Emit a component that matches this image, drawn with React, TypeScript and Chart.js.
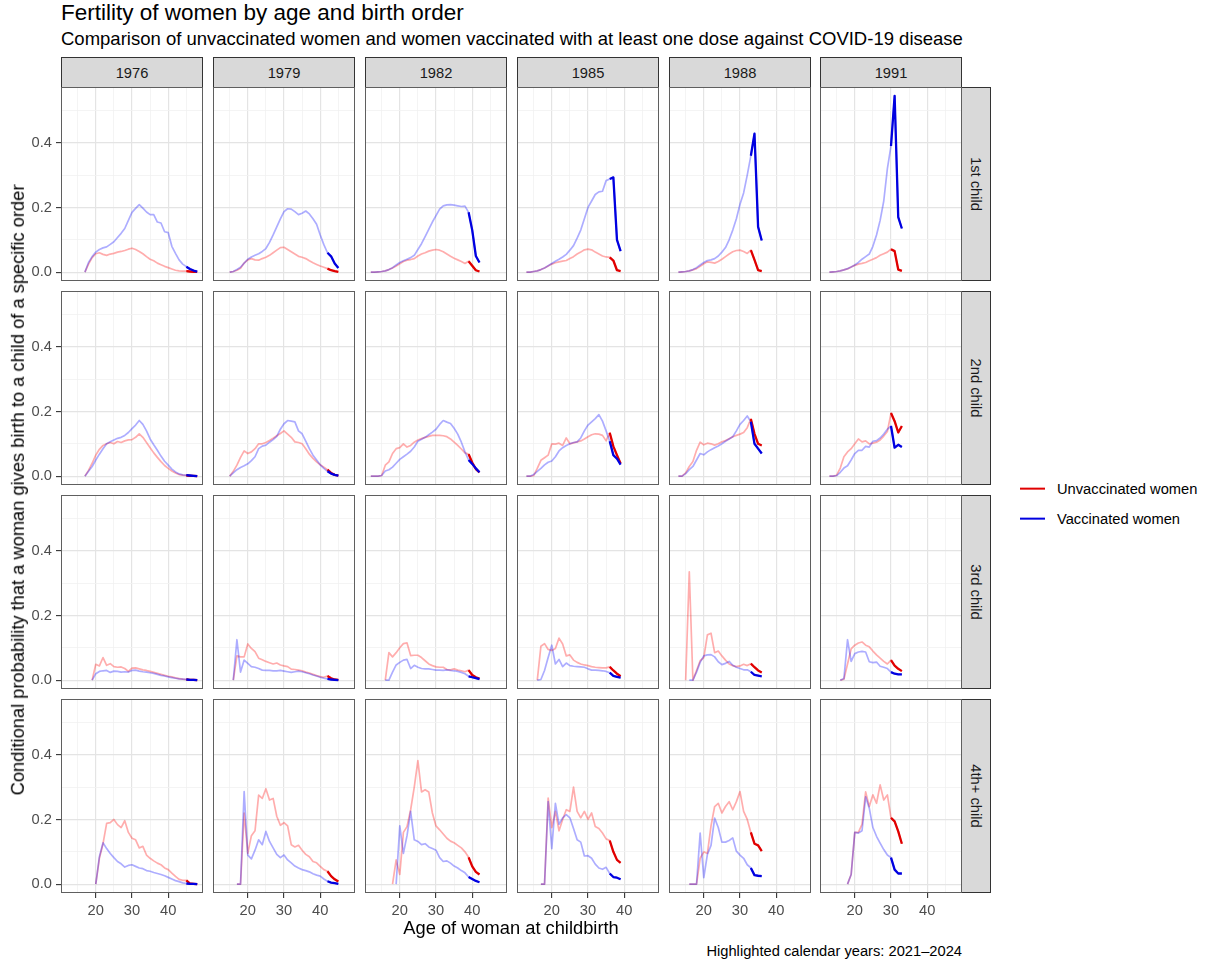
import React, { useEffect, useRef } from "react";
import { Chart, registerables } from "chart.js";

Chart.register(...registerables);

const FONT = '"Liberation Sans", Arial, Helvetica, sans-serif';

// ---------------- data ----------------
const COHORTS = [1976, 1979, 1982, 1985, 1988, 1991];
const BIRTH_ORDERS = ["1st child", "2nd child", "3rd child", "4th+ child"];
const SERIES_NAMES = ["Unvaccinated women", "Vaccinated women"];
const HIGHLIGHT_FIRST_YEAR = 2021;
const HIGHLIGHT_LAST_YEAR = 2024;
const X_TICKS = [15, 20, 25, 30, 35, 40, 45];
const X_TICK_LABELS = [20, 30, 40];
const Y_TICKS = [0, 0.1, 0.2, 0.3, 0.4, 0.5];
const Y_TICK_LABELS = [0, 0.2, 0.4];

// each series runs by single year of age and ends at the age reached in 2024
// 1st child
const unvac1976_1st = [0, 0.025, 0.045, 0.057, 0.06, 0.055, 0.052, 0.056, 0.058, 0.062, 0.064, 0.067, 0.071, 0.074, 0.07, 0.064, 0.057, 0.048, 0.04, 0.035, 0.028, 0.023, 0.018, 0.014, 0.01, 0.006, 0.004, 0.003, 0.003, 0.002, 0.001, 0.001];
const vac1976_1st = [0, 0.03, 0.048, 0.062, 0.07, 0.075, 0.078, 0.086, 0.094, 0.107, 0.12, 0.135, 0.16, 0.185, 0.197, 0.209, 0.198, 0.186, 0.178, 0.178, 0.155, 0.152, 0.125, 0.122, 0.08, 0.058, 0.038, 0.025, 0.017, 0.01, 0.005, 0.002];
const unvac1979_1st = [0, 0.002, 0.006, 0.012, 0.028, 0.038, 0.042, 0.038, 0.037, 0.042, 0.046, 0.052, 0.06, 0.068, 0.076, 0.077, 0.07, 0.063, 0.056, 0.049, 0.046, 0.042, 0.035, 0.029, 0.024, 0.019, 0.015, 0.011, 0.006, 0.003, 0.001];
const vac1979_1st = [0, 0.002, 0.008, 0.015, 0.028, 0.04, 0.047, 0.052, 0.057, 0.064, 0.073, 0.092, 0.115, 0.14, 0.165, 0.187, 0.196, 0.195, 0.187, 0.178, 0.182, 0.189, 0.18, 0.165, 0.148, 0.115, 0.085, 0.06, 0.049, 0.027, 0.013];
const unvac1982_1st = [0, 0, 0.001, 0.002, 0.004, 0.008, 0.013, 0.019, 0.026, 0.033, 0.037, 0.039, 0.042, 0.05, 0.056, 0.06, 0.065, 0.068, 0.07, 0.068, 0.063, 0.056, 0.049, 0.043, 0.038, 0.033, 0.027, 0.034, 0.02, 0.006, 0.002];
const vac1982_1st = [0, 0, 0.001, 0.002, 0.004, 0.008, 0.014, 0.022, 0.03, 0.035, 0.04, 0.045, 0.052, 0.07, 0.088, 0.11, 0.132, 0.155, 0.175, 0.195, 0.205, 0.208, 0.209, 0.207, 0.205, 0.203, 0.204, 0.185, 0.13, 0.05, 0.03];
const unvac1985_1st = [0, 0, 0.002, 0.004, 0.008, 0.013, 0.019, 0.025, 0.029, 0.032, 0.034, 0.036, 0.042, 0.048, 0.056, 0.062, 0.069, 0.071, 0.069, 0.062, 0.056, 0.05, 0.047, 0.046, 0.036, 0.006, 0.003];
const vac1985_1st = [0, 0, 0.002, 0.004, 0.008, 0.013, 0.02, 0.027, 0.034, 0.04, 0.047, 0.055, 0.068, 0.082, 0.105, 0.13, 0.165, 0.2, 0.22, 0.24, 0.248, 0.25, 0.283, 0.288, 0.293, 0.1, 0.065];
const unvac1988_1st = [0, 0.001, 0.002, 0.004, 0.007, 0.011, 0.018, 0.026, 0.032, 0.03, 0.028, 0.033, 0.04, 0.048, 0.056, 0.063, 0.067, 0.068, 0.064, 0.058, 0.068, 0.038, 0.006, 0.003];
const vac1988_1st = [0, 0.001, 0.002, 0.004, 0.008, 0.014, 0.022, 0.03, 0.036, 0.038, 0.042, 0.05, 0.062, 0.076, 0.1, 0.13, 0.165, 0.21, 0.245, 0.3, 0.36, 0.428, 0.14, 0.098];
const unvac1991_1st = [0, 0.001, 0.002, 0.004, 0.007, 0.01, 0.016, 0.021, 0.025, 0.027, 0.03, 0.035, 0.04, 0.045, 0.052, 0.057, 0.062, 0.071, 0.065, 0.008, 0.004];
const vac1991_1st = [0, 0.001, 0.002, 0.004, 0.007, 0.011, 0.016, 0.022, 0.03, 0.04, 0.048, 0.056, 0.08, 0.115, 0.16, 0.22, 0.32, 0.39, 0.545, 0.17, 0.135];

// 2nd child
const unvac1976_2nd = [0, 0.018, 0.04, 0.065, 0.083, 0.095, 0.1, 0.104, 0.1, 0.107, 0.104, 0.109, 0.112, 0.113, 0.12, 0.131, 0.12, 0.104, 0.088, 0.072, 0.058, 0.045, 0.033, 0.024, 0.016, 0.01, 0.005, 0.003, 0.002, 0.001, 0.001, 0];
const vac1976_2nd = [0, 0.015, 0.03, 0.05, 0.068, 0.085, 0.1, 0.106, 0.112, 0.117, 0.12, 0.126, 0.135, 0.147, 0.158, 0.172, 0.16, 0.14, 0.115, 0.097, 0.08, 0.062, 0.046, 0.034, 0.022, 0.013, 0.007, 0.004, 0.003, 0.002, 0.001, 0];
const unvac1979_2nd = [0, 0.015, 0.034, 0.058, 0.078, 0.07, 0.075, 0.085, 0.1, 0.1, 0.104, 0.11, 0.117, 0.125, 0.132, 0.14, 0.13, 0.12, 0.106, 0.104, 0.1, 0.085, 0.068, 0.055, 0.044, 0.035, 0.028, 0.02, 0.01, 0.004, 0.002];
const vac1979_2nd = [0, 0.01, 0.02, 0.027, 0.032, 0.038, 0.048, 0.06, 0.085, 0.093, 0.096, 0.105, 0.113, 0.123, 0.145, 0.162, 0.172, 0.17, 0.168, 0.14, 0.131, 0.108, 0.085, 0.065, 0.05, 0.035, 0.024, 0.015, 0.008, 0.004, 0.002];
const unvac1982_2nd = [0, 0, 0, 0.002, 0.034, 0.044, 0.07, 0.085, 0.088, 0.1, 0.09, 0.095, 0.105, 0.112, 0.116, 0.12, 0.123, 0.126, 0.126, 0.126, 0.125, 0.122, 0.115, 0.105, 0.095, 0.084, 0.072, 0.068, 0.042, 0.022, 0.012];
const vac1982_2nd = [0, 0, 0, 0.002, 0.016, 0.02, 0.028, 0.04, 0.052, 0.06, 0.068, 0.077, 0.09, 0.108, 0.114, 0.12, 0.128, 0.136, 0.145, 0.16, 0.172, 0.167, 0.163, 0.148, 0.13, 0.105, 0.075, 0.05, 0.038, 0.024, 0.012];
const unvac1985_2nd = [0, 0, 0.002, 0.024, 0.049, 0.057, 0.065, 0.1, 0.099, 0.102, 0.095, 0.118, 0.1, 0.103, 0.106, 0.109, 0.115, 0.122, 0.128, 0.131, 0.13, 0.126, 0.109, 0.134, 0.092, 0.065, 0.039];
const vac1985_2nd = [0, 0, 0.005, 0.015, 0.024, 0.035, 0.043, 0.047, 0.06, 0.078, 0.088, 0.095, 0.1, 0.104, 0.106, 0.118, 0.14, 0.158, 0.168, 0.178, 0.19, 0.17, 0.14, 0.108, 0.065, 0.054, 0.036];
const unvac1988_2nd = [0, 0, 0.01, 0.03, 0.045, 0.08, 0.105, 0.097, 0.102, 0.1, 0.096, 0.1, 0.106, 0.11, 0.116, 0.122, 0.126, 0.13, 0.135, 0.15, 0.177, 0.131, 0.1, 0.095];
const vac1988_2nd = [0, 0, 0.008, 0.02, 0.03, 0.05, 0.07, 0.066, 0.075, 0.082, 0.088, 0.093, 0.1, 0.108, 0.115, 0.122, 0.14, 0.16, 0.172, 0.186, 0.168, 0.1, 0.085, 0.07];
const unvac1991_2nd = [0, 0, 0.003, 0.025, 0.06, 0.075, 0.085, 0.1, 0.115, 0.106, 0.109, 0.1, 0.102, 0.105, 0.112, 0.124, 0.138, 0.195, 0.17, 0.135, 0.155];
const vac1991_2nd = [0, 0, 0.002, 0.012, 0.025, 0.032, 0.05, 0.07, 0.08, 0.08, 0.092, 0.09, 0.108, 0.11, 0.118, 0.13, 0.145, 0.155, 0.088, 0.097, 0.09];

// 3rd child
const unvac1976_3rd = [0, 0.049, 0.044, 0.07, 0.046, 0.051, 0.042, 0.04, 0.041, 0.036, 0.027, 0.037, 0.038, 0.035, 0.032, 0.03, 0.027, 0.024, 0.021, 0.018, 0.015, 0.012, 0.01, 0.007, 0.005, 0.003, 0.002, 0.001, 0.001, 0];
const vac1976_3rd = [0, 0.02, 0.027, 0.029, 0.03, 0.024, 0.028, 0.027, 0.025, 0.026, 0.025, 0.03, 0.031, 0.028, 0.026, 0.025, 0.023, 0.021, 0.018, 0.015, 0.013, 0.01, 0.008, 0.006, 0.004, 0.003, 0.002, 0.001, 0.001, 0];
const unvac1979_3rd = [0, 0.075, 0.072, 0.072, 0.112, 0.098, 0.088, 0.068, 0.063, 0.058, 0.054, 0.05, 0.053, 0.047, 0.044, 0.042, 0.034, 0.033, 0.031, 0.029, 0.025, 0.022, 0.018, 0.014, 0.011, 0.009, 0.013, 0.006, 0.002, 0.001];
const vac1979_3rd = [0, 0.125, 0.025, 0.062, 0.052, 0.042, 0.04, 0.036, 0.031, 0.03, 0.03, 0.029, 0.029, 0.03, 0.028, 0.026, 0.024, 0.026, 0.028, 0.026, 0.023, 0.02, 0.016, 0.013, 0.009, 0.006, 0.004, 0.002, 0.001, 0];
const unvac1982_3rd = [0, 0.085, 0.072, 0.085, 0.1, 0.113, 0.115, 0.076, 0.077, 0.077, 0.07, 0.06, 0.05, 0.045, 0.041, 0.04, 0.04, 0.033, 0.032, 0.035, 0.031, 0.029, 0.026, 0.031, 0.016, 0.009, 0.005];
const vac1982_3rd = [0, 0, 0.025, 0.047, 0.055, 0.062, 0.064, 0.036, 0.046, 0.04, 0.036, 0.035, 0.035, 0.033, 0.031, 0.031, 0.03, 0.032, 0.03, 0.029, 0.027, 0.024, 0.02, 0.012, 0.009, 0.006, 0.003];
const unvac1985_3rd = [0, 0.105, 0.113, 0.095, 0.092, 0.098, 0.13, 0.112, 0.075, 0.078, 0.062, 0.055, 0.05, 0.047, 0.045, 0.042, 0.04, 0.039, 0.038, 0.038, 0.041, 0.03, 0.02, 0.012];
const vac1985_3rd = [0, 0.002, 0.03, 0.07, 0.108, 0.05, 0.064, 0.042, 0.053, 0.045, 0.043, 0.042, 0.041, 0.04, 0.035, 0.031, 0.031, 0.03, 0.029, 0.027, 0.023, 0.013, 0.01, 0.008];
const unvac1988_3rd = [0, 0.335, 0, 0.03, 0.06, 0.07, 0.14, 0.145, 0.085, 0.09, 0.075, 0.062, 0.05, 0.045, 0.042, 0.044, 0.049, 0.045, 0.051, 0.04, 0.03, 0.024];
const vac1988_3rd = [0, 0, 0.025, 0.055, 0.075, 0.078, 0.079, 0.072, 0.057, 0.048, 0.052, 0.058, 0.046, 0.04, 0.036, 0.032, 0.032, 0.026, 0.016, 0.014, 0.012];
const unvac1991_3rd = [0, 0.003, 0.05, 0.097, 0.108, 0.115, 0.118, 0.108, 0.103, 0.09, 0.078, 0.068, 0.058, 0.05, 0.062, 0.045, 0.035, 0.028];
const vac1991_3rd = [0, 0.005, 0.125, 0.058, 0.082, 0.087, 0.089, 0.087, 0.057, 0.054, 0.056, 0.043, 0.04, 0.036, 0.025, 0.02, 0.018, 0.018];

// 4th+ child
const unvac1976_4th = [0, 0.08, 0.125, 0.188, 0.19, 0.2, 0.184, 0.175, 0.196, 0.16, 0.142, 0.137, 0.112, 0.117, 0.09, 0.08, 0.072, 0.065, 0.06, 0.05, 0.045, 0.034, 0.024, 0.015, 0.012, 0.012, 0.002, 0.001, 0];
const vac1976_4th = [0, 0.085, 0.128, 0.11, 0.095, 0.082, 0.07, 0.063, 0.053, 0.058, 0.06, 0.055, 0.05, 0.048, 0.042, 0.04, 0.036, 0.033, 0.03, 0.026, 0.021, 0.016, 0.011, 0.008, 0.004, 0.002, 0.001, 0.001, 0];
const unvac1979_4th = [0, 0, 0.22, 0.095, 0.15, 0.165, 0.275, 0.265, 0.295, 0.26, 0.265, 0.21, 0.182, 0.19, 0.18, 0.122, 0.115, 0.12, 0.105, 0.092, 0.085, 0.07, 0.066, 0.055, 0.045, 0.04, 0.025, 0.015, 0.008];
const vac1979_4th = [0, 0, 0.286, 0.09, 0.078, 0.105, 0.137, 0.122, 0.163, 0.132, 0.112, 0.092, 0.082, 0.09, 0.075, 0.066, 0.056, 0.05, 0.045, 0.042, 0.038, 0.032, 0.028, 0.025, 0.016, 0.009, 0.005, 0.003, 0.001];
const unvac1982_4th = [0, 0.075, 0.03, 0.16, 0.178, 0.23, 0.3, 0.382, 0.285, 0.292, 0.285, 0.22, 0.18, 0.168, 0.155, 0.142, 0.133, 0.128, 0.12, 0.112, 0.1, 0.083, 0.055, 0.038, 0.03];
const vac1982_4th = [0, 0.18, 0.095, 0.15, 0.225, 0.137, 0.132, 0.122, 0.125, 0.115, 0.11, 0.105, 0.082, 0.07, 0.072, 0.065, 0.056, 0.05, 0.042, 0.035, 0.022, 0.016, 0.01, 0.006];
const unvac1985_4th = [0, 0, 0.266, 0.175, 0.225, 0.165, 0.2, 0.23, 0.225, 0.3, 0.225, 0.205, 0.225, 0.2, 0.22, 0.178, 0.172, 0.158, 0.14, 0.135, 0.1, 0.075, 0.066];
const vac1985_4th = [0, 0, 0.255, 0.11, 0.25, 0.185, 0.205, 0.215, 0.205, 0.172, 0.137, 0.13, 0.087, 0.088, 0.08, 0.062, 0.05, 0.046, 0.052, 0.033, 0.022, 0.02, 0.015];
const unvac1988_4th = [0, 0, 0, 0.08, 0.1, 0.095, 0.18, 0.24, 0.25, 0.22, 0.24, 0.255, 0.23, 0.255, 0.286, 0.225, 0.2, 0.16, 0.125, 0.12, 0.102];
const vac1988_4th = [0, 0, 0, 0.158, 0.02, 0.092, 0.12, 0.204, 0.175, 0.13, 0.13, 0.135, 0.143, 0.102, 0.09, 0.08, 0.06, 0.05, 0.028, 0.026, 0.025];
const unvac1991_4th = [0, 0.03, 0.16, 0.16, 0.185, 0.285, 0.24, 0.276, 0.25, 0.307, 0.26, 0.276, 0.205, 0.194, 0.163, 0.125];
const vac1991_4th = [0, 0.03, 0.16, 0.158, 0.165, 0.27, 0.235, 0.175, 0.148, 0.127, 0.107, 0.09, 0.082, 0.045, 0.033, 0.033];

const UNVAC: number[][][] = [
  [unvac1976_1st, unvac1979_1st, unvac1982_1st, unvac1985_1st, unvac1988_1st, unvac1991_1st],
  [unvac1976_2nd, unvac1979_2nd, unvac1982_2nd, unvac1985_2nd, unvac1988_2nd, unvac1991_2nd],
  [unvac1976_3rd, unvac1979_3rd, unvac1982_3rd, unvac1985_3rd, unvac1988_3rd, unvac1991_3rd],
  [unvac1976_4th, unvac1979_4th, unvac1982_4th, unvac1985_4th, unvac1988_4th, unvac1991_4th],
];
const VAC: number[][][] = [
  [vac1976_1st, vac1979_1st, vac1982_1st, vac1985_1st, vac1988_1st, vac1991_1st],
  [vac1976_2nd, vac1979_2nd, vac1982_2nd, vac1985_2nd, vac1988_2nd, vac1991_2nd],
  [vac1976_3rd, vac1979_3rd, vac1982_3rd, vac1985_3rd, vac1988_3rd, vac1991_3rd],
  [vac1976_4th, vac1979_4th, vac1982_4th, vac1985_4th, vac1988_4th, vac1991_4th],
];

// ---------------- layout & style ----------------
const PANEL_LEFT = [61, 213, 365, 517, 669, 820];
const PANEL_TOP = [87, 291, 495, 699];
const PANEL_W = 142;
const PANEL_H = 194;
const Y_AXIS_W = 61;
const X_AXIS_H = 40;
const X_MIN = 10.4;
const X_MAX = 49.6;
const Y_MIN = -0.0273;
const Y_MAX = 0.5723;

const RED = "#e00000";
const BLUE = "#0000e0";
const RED_FADED = "rgba(255,0,0,0.32)";
const BLUE_FADED = "rgba(0,0,255,0.32)";
const GRID_MAJOR = "#e4e4e4";
const GRID_MINOR = "#f1f1f1";
const TICK_TEXT = "#4d4d4d";
const TEXT_SIZE_SMALL = 14.7;

const near = (a: number, list: number[]) => list.some((t) => Math.abs(t - a) < 1e-9);

const borderPlugin = {
  id: "panelBorder",
  afterDatasetsDraw(chart: any) {
    const { ctx, chartArea } = chart;
    ctx.save();
    ctx.strokeStyle = "#5f5f5f";
    ctx.lineWidth = 1;
    ctx.strokeRect(chartArea.left + 0.5, chartArea.top + 0.5, chartArea.right - chartArea.left - 1, chartArea.bottom - chartArea.top - 1);
    ctx.restore();
  },
};

const zeroPadding = (s: any) => {
  s.paddingTop = 0;
  s.paddingBottom = 0;
  s.paddingLeft = 0;
  s.paddingRight = 0;
};

function Panel({ row, col }: { row: number; col: number }) {
  const ref = useRef<HTMLCanvasElement>(null);
  const isLeft = col === 0;
  const isBottom = row === BIRTH_ORDERS.length - 1;
  const width = PANEL_W + (isLeft ? Y_AXIS_W : 0);
  const height = PANEL_H + (isBottom ? X_AXIS_H : 0);

  useEffect(() => {
    const cohort = COHORTS[col];
    const lastAge = HIGHLIGHT_LAST_YEAR - cohort;
    const toPoints = (vals: number[]) => {
      const first = lastAge - vals.length + 1;
      return vals.map((y, i) => ({ x: first + i, y }));
    };
    const highlight = (pts: { x: number; y: number }[]) =>
      pts.filter((p) => p.x + cohort >= HIGHLIGHT_FIRST_YEAR && p.x + cohort <= HIGHLIGHT_LAST_YEAR);
    const u = toPoints(UNVAC[row][col]);
    const v = toPoints(VAC[row][col]);

    const common = { pointRadius: 0, tension: 0, fill: false, borderJoinStyle: "round", borderCapStyle: "butt" };
    const chart = new Chart(ref.current as HTMLCanvasElement, {
      type: "line",
      data: {
        datasets: [
          { ...common, label: SERIES_NAMES[1] + " (highlighted)", data: highlight(v), borderColor: BLUE, borderWidth: 2.3 },
          { ...common, label: SERIES_NAMES[0] + " (highlighted)", data: highlight(u), borderColor: RED, borderWidth: 2.3 },
          { ...common, label: SERIES_NAMES[1], data: v, borderColor: BLUE_FADED, borderWidth: 1.7 },
          { ...common, label: SERIES_NAMES[0], data: u, borderColor: RED_FADED, borderWidth: 1.7 },
        ] as any,
      },
      options: {
        animation: false,
        responsive: false,
        maintainAspectRatio: false,
        devicePixelRatio: 1,
        events: [],
        layout: { padding: 0, autoPadding: false } as any,
        plugins: { legend: { display: false }, tooltip: { enabled: false }, title: { display: false } },
        scales: {
          x: {
            type: "linear",
            min: X_MIN,
            max: X_MAX,
            afterBuildTicks: (s: any) => {
              s.ticks = X_TICKS.map((value) => ({ value }));
            },
            afterFit: (s: any) => {
              s.height = isBottom ? X_AXIS_H : 0;
              zeroPadding(s);
            },
            border: { display: false },
            grid: {
              color: (c: any) => (near(c.tick.value, X_TICK_LABELS) ? GRID_MAJOR : GRID_MINOR),
              lineWidth: (c: any) => (near(c.tick.value, X_TICK_LABELS) ? 1.2 : 0.8),
              drawTicks: isBottom,
              tickLength: 5,
              tickWidth: 1.1,
              tickColor: (c: any) => (near(c.tick.value, X_TICK_LABELS) ? "#333333" : "rgba(0,0,0,0)"),
            },
            ticks: {
              display: isBottom,
              padding: 4,
              maxRotation: 0,
              autoSkip: false,
              color: TICK_TEXT,
              font: { family: FONT, size: TEXT_SIZE_SMALL },
              callback: (val: any) => (near(Number(val), X_TICK_LABELS) ? String(val) : ""),
            },
          },
          y: {
            type: "linear",
            min: Y_MIN,
            max: Y_MAX,
            afterBuildTicks: (s: any) => {
              s.ticks = Y_TICKS.map((value) => ({ value }));
            },
            afterFit: (s: any) => {
              s.width = isLeft ? Y_AXIS_W : 0;
              zeroPadding(s);
            },
            border: { display: false },
            grid: {
              color: (c: any) => (near(c.tick.value, Y_TICK_LABELS) ? GRID_MAJOR : GRID_MINOR),
              lineWidth: (c: any) => (near(c.tick.value, Y_TICK_LABELS) ? 1.2 : 0.8),
              drawTicks: isLeft,
              tickLength: 5,
              tickWidth: 1.1,
              tickColor: (c: any) => (near(c.tick.value, Y_TICK_LABELS) ? "#333333" : "rgba(0,0,0,0)"),
            },
            ticks: {
              display: isLeft,
              padding: 4,
              autoSkip: false,
              color: TICK_TEXT,
              font: { family: FONT, size: TEXT_SIZE_SMALL },
              callback: (val: any) => (near(Number(val), Y_TICK_LABELS) ? Number(val).toFixed(1) : ""),
            },
          },
        },
      } as any,
      plugins: [borderPlugin],
    });
    return () => chart.destroy();
  }, [row, col]);

  return (
    <canvas
      ref={ref}
      width={width}
      height={height}
      style={{
        position: "absolute",
        left: PANEL_LEFT[col] - (isLeft ? Y_AXIS_W : 0),
        top: PANEL_TOP[row],
        width,
        height,
      }}
    />
  );
}

const stripStyle: React.CSSProperties = {
  position: "absolute",
  boxSizing: "border-box",
  background: "#d9d9d9",
  border: "1px solid #333333",
  color: "#1a1a1a",
  fontFamily: FONT,
  fontSize: TEXT_SIZE_SMALL,
  display: "flex",
  alignItems: "center",
  justifyContent: "center",
  whiteSpace: "nowrap",
};

export default function App() {
  const panels: JSX.Element[] = [];
  BIRTH_ORDERS.forEach((_, r) =>
    COHORTS.forEach((_c, c) => panels.push(<Panel key={`${r}-${c}`} row={r} col={c} />))
  );
  return (
    <div
      style={{
        position: "absolute",
        left: 0,
        top: 0,
        width: 1207,
        height: 961,
        background: "#ffffff",
        overflow: "hidden",
        fontFamily: FONT,
      }}
    >
      <div style={{ position: "absolute", left: 61, top: 2, fontSize: 22.5, lineHeight: 1, color: "#000", whiteSpace: "nowrap" }}>
        Fertility of women by age and birth order
      </div>
      <div style={{ position: "absolute", left: 61, top: 30, fontSize: 18.5, lineHeight: 1, color: "#000", whiteSpace: "nowrap" }}>
        Comparison of unvaccinated women and women vaccinated with at least one dose against COVID-19 disease
      </div>

      {COHORTS.map((c, i) => (
        <div key={c} style={{ ...stripStyle, left: PANEL_LEFT[i], top: 57, width: PANEL_W, height: 31 }}>
          {String(c)}
        </div>
      ))}
      {BIRTH_ORDERS.map((o, i) => (
        <div key={o} style={{ ...stripStyle, left: 961, top: PANEL_TOP[i], width: 30, height: PANEL_H }}>
          <span style={{ transform: "rotate(90deg)", display: "inline-block" }}>{o}</span>
        </div>
      ))}

      {panels}

      <div
        style={{
          position: "absolute",
          left: 18,
          top: 490,
          transform: "translate(-50%, -50%) rotate(-90deg)",
          fontSize: 18.3,
          lineHeight: 1,
          whiteSpace: "nowrap",
          color: "#000",
        }}
      >
        Conditional probability that a woman gives birth to a child of a specific order
      </div>
      <div
        style={{
          position: "absolute",
          left: 511,
          top: 928,
          transform: "translate(-50%, -50%)",
          fontSize: 18.3,
          lineHeight: 1,
          whiteSpace: "nowrap",
          color: "#000",
        }}
      >
        Age of woman at childbirth
      </div>
      <div
        style={{
          position: "absolute",
          right: 1207 - 962,
          top: 951,
          transform: "translateY(-50%)",
          fontSize: TEXT_SIZE_SMALL,
          lineHeight: 1,
          whiteSpace: "nowrap",
          color: "#000",
        }}
      >
        {`Highlighted calendar years: ${HIGHLIGHT_FIRST_YEAR}\u2013${HIGHLIGHT_LAST_YEAR}`}
      </div>

      {SERIES_NAMES.map((name, i) => (
        <div key={name} style={{ position: "absolute", left: 1020, top: 489 + i * 30, transform: "translateY(-50%)", display: "flex", alignItems: "center" }}>
          <div style={{ width: 25, height: 2, background: i === 0 ? RED : BLUE, marginRight: 12 }} />
          <div style={{ fontSize: TEXT_SIZE_SMALL, lineHeight: 1, whiteSpace: "nowrap", color: "#000" }}>{name}</div>
        </div>
      ))}
    </div>
  );
}
